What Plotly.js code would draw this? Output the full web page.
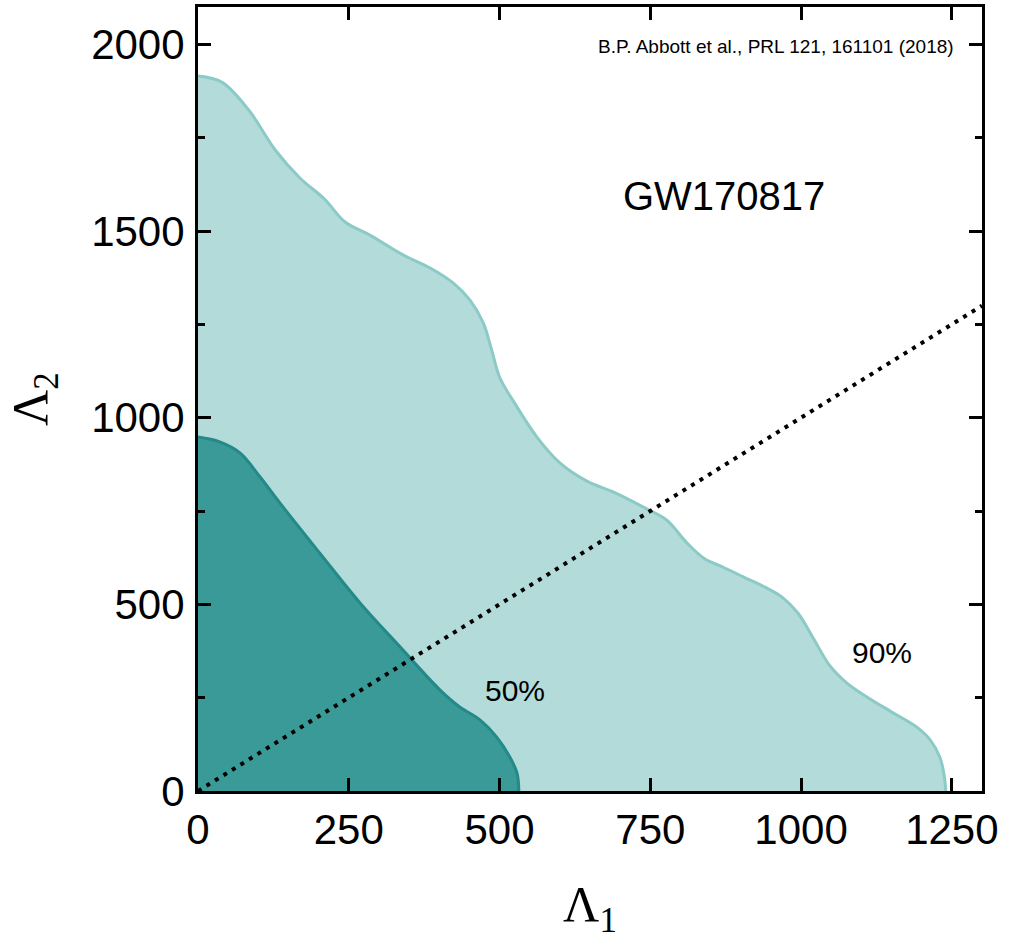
<!DOCTYPE html>
<html>
<head>
<meta charset="utf-8">
<script src="https://cdn.plot.ly/plotly-3.0.1.min.js"></script>
<style>html,body{margin:0;padding:0;background:#fff;}#chart{width:1022px;height:940px;}</style>
</head>
<body>
<div id="chart"></div>
<script>
// 90% credible contour (upper edge), Λ1 vs Λ2
const outer90X = [0, 40, 85, 128, 169, 210, 244, 285, 340, 385, 423, 451, 473, 487, 500, 525, 562, 600, 645, 690, 745, 777, 811, 840, 870, 905, 940, 968, 995, 1020, 1048, 1076, 1109, 1153, 1192, 1214, 1230, 1237, 1240];
const outer90Y = [1915, 1898, 1822, 1717, 1642, 1585, 1524, 1489, 1436, 1401, 1361, 1315, 1254, 1181, 1109, 1039, 948, 879, 830, 800, 755, 726, 664, 622, 600, 573, 546, 520, 476, 410, 335, 289, 252, 209, 171, 137, 91, 45, 0];
// 50% credible contour
const inner50X = [0, 36, 70, 103, 136, 202, 269, 335, 401, 434, 468, 495, 517, 529, 532];
const inner50Y = [948, 935, 905, 841, 771, 637, 503, 386, 271, 225, 190, 145, 91, 48, 0];
// Λ1 = Λ2 diagonal
const diagX = [0, 1300];
const diagY = [0, 1300];

const xTickVals = [0, 250, 500, 750, 1000, 1250];
const yTickVals = [0, 500, 1000, 1500, 2000];
const yMinorVals = [250, 750, 1250, 1750];

const labels = {
  citation: "B.P. Abbott et al., PRL 121, 161101 (2018)",
  event: "GW170817",
  c50: "50%",
  c90: "90%"
};

const sans = "Arial, 'Liberation Sans', sans-serif";
const serif = "'Times New Roman', 'Liberation Serif', serif";

const traces = [
  {
    x: outer90X, y: outer90Y, type: 'scatter', mode: 'lines',
    fill: 'tozeroy', fillcolor: '#b3dbd9',
    line: {color: '#8ccac6', width: 3, shape: 'spline', smoothing: 1},
    hoverinfo: 'skip', showlegend: false
  },
  {
    x: inner50X, y: inner50Y, type: 'scatter', mode: 'lines',
    fill: 'tozeroy', fillcolor: '#3a9a98',
    line: {color: '#238a87', width: 3, shape: 'spline', smoothing: 1},
    hoverinfo: 'skip', showlegend: false
  },
  {
    x: diagX, y: diagY, type: 'scatter', mode: 'lines',
    line: {color: '#000', width: 4, dash: '4px,6px'},
    hoverinfo: 'skip', showlegend: false
  }
];

const axisCommon = {
  showline: true, linecolor: '#000', linewidth: 3, mirror: 'ticks',
  ticks: 'inside', tickcolor: '#000', tickwidth: 3, ticklen: 13,
  showgrid: false, zeroline: false,
  tickfont: {family: sans, size: 42, color: '#000'}
};

const layout = {
  width: 1022, height: 940,
  margin: {l: 198, r: 40, t: 7, b: 149},
  paper_bgcolor: '#fff', plot_bgcolor: '#fff',
  xaxis: Object.assign({}, axisCommon, {
    range: [0, 1300], tickmode: 'array', tickvals: xTickVals,
    title: {text: 'Λ<sub>1</sub>', font: {family: serif, size: 50, color: '#000'}, standoff: 42}
  }),
  yaxis: Object.assign({}, axisCommon, {
    range: [0, 2100], tickmode: 'array', tickvals: yTickVals,
    ticklabelstandoff: 2,
    minor: {tickvals: yMinorVals, ticks: 'inside', ticklen: 7, tickwidth: 3, tickcolor: '#000'},
    title: {text: 'Λ<sub>2</sub>', font: {family: serif, size: 50, color: '#000'}, standoff: 28}
  }),
  annotations: [
    {text: labels.citation, xref: 'paper', yref: 'paper', x: 0.967, y: 0.95, xanchor: 'right', yanchor: 'middle', showarrow: false, font: {family: sans, size: 19, color: '#000'}},
    {text: labels.event, xref: 'x', yref: 'y', x: 873, y: 1595, xanchor: 'center', yanchor: 'middle', showarrow: false, font: {family: sans, size: 40, color: '#000'}},
    {text: labels.c50, xref: 'x', yref: 'y', x: 525, y: 270, xanchor: 'center', yanchor: 'middle', showarrow: false, font: {family: sans, size: 30, color: '#000'}},
    {text: labels.c90, xref: 'x', yref: 'y', x: 1135, y: 370, xanchor: 'center', yanchor: 'middle', showarrow: false, font: {family: sans, size: 30, color: '#000'}}
  ]
};

Plotly.newPlot('chart', traces, layout, {displayModeBar: false, staticPlot: true});
</script>
</body>
</html>
